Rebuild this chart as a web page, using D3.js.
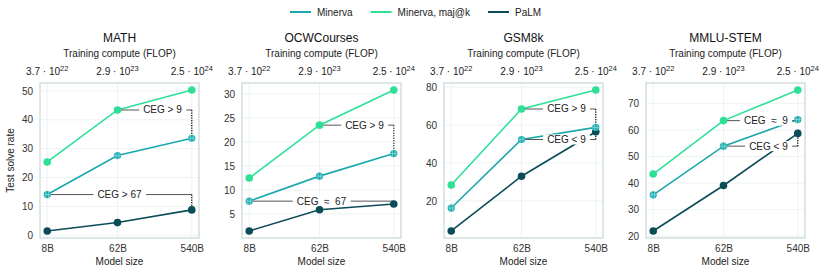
<!DOCTYPE html>
<html>
<head>
<meta charset="utf-8">
<script src="https://cdn.jsdelivr.net/npm/d3@7"></script>
<style>
body { margin: 0; background: #fff; }
svg { display: block; font-family: "Liberation Sans", Arial, sans-serif; }
</style>
</head>
<body>
<div id="canvas"></div>
<script>
// ---------------- DATA ----------------
var benchmarks = ["MATH", "OCWCourses", "GSM8k", "MMLU-STEM"];
var categories = ["8B", "62B", "540B"];
var modelParams = [8, 62, 540];
var computeMantissa = ["3.7", "2.9", "2.5"];
var computeExponent = ["22", "23", "24"];
var seriesNames = ["Minerva", "Minerva, maj@k", "PaLM"];

var minerva    = [[14.1, 27.6, 33.6], [7.7, 12.9, 17.6], [16.2, 52.4, 58.8], [35.6, 53.9, 63.9]];
var minervaMaj = [[25.4, 43.4, 50.3], [12.5, 23.5, 30.8], [28.4, 68.5, 78.5], [43.4, 63.5, 75.0]];
var palm       = [[1.5, 4.4, 8.8], [1.5, 5.9, 7.1], [4.1, 33.0, 56.5], [22.0, 39.1, 58.7]];

var yTicks = [[0, 10, 20, 30, 40, 50], [5, 10, 15, 20, 25, 30], [20, 40, 60, 80], [20, 30, 40, 50, 60, 70]];

// annotations: panel, label, from [series, model], to [series, model]
var annotations = [
  { panel: 0, label: "CEG > 9",  from: [1, 1], to: [0, 2] },
  { panel: 0, label: "CEG > 67", from: [0, 0], to: [2, 2] },
  { panel: 1, label: "CEG > 9",  from: [1, 1], to: [0, 2] },
  { panel: 1, label: "CEG \u2248 67", from: [0, 0], to: [2, 2] },
  { panel: 2, label: "CEG > 9",  from: [1, 1], to: [0, 2] },
  { panel: 2, label: "CEG < 9",  from: [0, 1], to: [2, 2] },
  { panel: 3, label: "CEG \u2248 9",  from: [1, 1], to: [0, 2] },
  { panel: 3, label: "CEG < 9",  from: [0, 1], to: [2, 2] }
];

// ---------------- STRUCTURE ----------------
var W = 830, H = 277;
var colors = ["#19a8ad", "#2ee096", "#0b4d57"];
var allSeries = [minerva, minervaMaj, palm];

var panelLeft = 40, panelStep = 202, panelW = 159;
var panelTop = 83, panelH = 155;

var svg = d3.select("#canvas").append("svg")
  .attr("width", W).attr("height", H);

// ---------------- LEGEND ----------------
var legend = svg.append("g").attr("class", "legend");
var lx = 290;
seriesNames.forEach(function (name, i) {
  legend.append("line")
    .attr("x1", lx).attr("x2", lx + 21)
    .attr("y1", 12).attr("y2", 12)
    .attr("stroke", colors[i]).attr("stroke-width", 2);
  var t = legend.append("text")
    .attr("x", lx + 27).attr("y", 15.5)
    .attr("font-size", 10).attr("fill", "#222")
    .text(name);
  lx += 27 + t.node().getComputedTextLength() + 18;
});

// ---------------- PANELS ----------------
var logPad = Math.pow(540 / 8, 0.05);

benchmarks.forEach(function (bench, p) {
  var g = svg.append("g")
    .attr("transform", `translate(${panelLeft + p * panelStep}, ${panelTop})`);

  var x = d3.scaleLog()
    .domain([modelParams[0] / logPad, modelParams[2] * logPad])
    .range([0, panelW]);

  var vals = [].concat(minerva[p], minervaMaj[p], palm[p]);
  var ext = d3.extent(vals);
  var pad = (ext[1] - ext[0]) * 0.05;
  var y = d3.scaleLinear()
    .domain([ext[0] - pad, ext[1] + pad])
    .range([panelH, 0]);

  // grid
  g.append("g").selectAll("line.gy")
    .data(yTicks[p]).enter().append("line")
    .attr("x1", 0).attr("x2", panelW)
    .attr("y1", function (d) { return y(d); })
    .attr("y2", function (d) { return y(d); })
    .attr("stroke", "#edf3f3").attr("stroke-width", 1);
  g.append("g").selectAll("line.gx")
    .data(modelParams).enter().append("line")
    .attr("x1", function (d) { return x(d); })
    .attr("x2", function (d) { return x(d); })
    .attr("y1", 0).attr("y2", panelH)
    .attr("stroke", "#edf3f3").attr("stroke-width", 1);

  // frame
  g.append("rect")
    .attr("width", panelW).attr("height", panelH)
    .attr("fill", "none").attr("stroke", "#d3dfdf").attr("stroke-width", 1.5);

  // left axis
  var yAxis = g.append("g")
    .call(d3.axisLeft(y).tickValues(yTicks[p]).tickSize(0).tickPadding(7));
  yAxis.select(".domain").remove();
  yAxis.selectAll("text").attr("font-size", 10).attr("fill", "#333")
    .attr("font-family", "Liberation Sans, Arial, sans-serif");

  // bottom axis
  var xAxis = g.append("g")
    .attr("transform", `translate(0, ${panelH})`)
    .call(d3.axisBottom(x).tickValues(modelParams)
      .tickFormat(function (d, i) { return categories[i]; })
      .tickSize(0).tickPadding(7));
  xAxis.select(".domain").remove();
  xAxis.selectAll("text").attr("font-size", 10).attr("fill", "#333")
    .attr("font-family", "Liberation Sans, Arial, sans-serif");

  // top axis (training compute)
  var topLabels = g.append("g");
  modelParams.forEach(function (m, i) {
    var t = topLabels.append("text")
      .attr("x", x(m)).attr("y", -8)
      .attr("text-anchor", "middle")
      .attr("font-size", 10).attr("fill", "#222");
    t.append("tspan").text(computeMantissa[i] + " \u00b7 10");
    t.append("tspan").attr("dy", -4).attr("font-size", 7.5).text(computeExponent[i]);
  });

  // titles
  g.append("text")
    .attr("x", panelW / 2).attr("y", -41)
    .attr("text-anchor", "middle").attr("font-size", 12).attr("fill", "#111")
    .text(bench);
  g.append("text")
    .attr("x", panelW / 2).attr("y", -26)
    .attr("text-anchor", "middle").attr("font-size", 10).attr("fill", "#222")
    .text("Training compute (FLOP)");
  g.append("text")
    .attr("x", panelW / 2).attr("y", panelH + 27)
    .attr("text-anchor", "middle").attr("font-size", 10).attr("fill", "#222")
    .text("Model size");

  if (p === 0) {
    g.append("text")
      .attr("transform", `translate(-26, ${panelH / 2}) rotate(-90)`)
      .attr("text-anchor", "middle").attr("font-size", 10).attr("fill", "#222")
      .text("Test solve rate");
  }

  // series lines
  var line = d3.line()
    .x(function (d, i) { return x(modelParams[i]); })
    .y(function (d) { return y(d); });
  [2, 0, 1].forEach(function (s) {
    g.append("path")
      .datum(allSeries[s][p])
      .attr("d", line)
      .attr("fill", "none")
      .attr("stroke", colors[s]).attr("stroke-width", 1.6);
  });

  // annotations
  annotations.filter(function (a) { return a.panel === p; }).forEach(function (a) {
    var x0 = x(modelParams[a.from[1]]);
    var y0 = y(allSeries[a.from[0]][p][a.from[1]]);
    var x1 = x(modelParams[a.to[1]]);
    var y1 = y(allSeries[a.to[0]][p][a.to[1]]);
    var ag = g.append("g");
    ag.append("line")
      .attr("x1", x0).attr("x2", x1).attr("y1", y0).attr("y2", y0)
      .attr("stroke", "#555").attr("stroke-width", 1);
    ag.append("line")
      .attr("x1", x1).attr("x2", x1).attr("y1", y0).attr("y2", y1)
      .attr("stroke", "#111").attr("stroke-width", 1.3)
      .attr("stroke-dasharray", "1.2,1.3");
    var t = ag.append("text")
      .attr("y", y0 + 3.5)
      .attr("font-size", 10).attr("fill", "#222")
      .attr("xml:space", "preserve")
      .text(a.label.replace("\u2248", " \u2248 "));
    if (a.from[1] === 0) {
      t.attr("x", (x0 + x1) / 2).attr("text-anchor", "middle");
    } else {
      t.attr("x", x1 - 10).attr("text-anchor", "end");
    }
    var bb = t.node().getBBox();
    ag.insert("rect", "text")
      .attr("x", bb.x - 4).attr("y", y0 - 5)
      .attr("width", bb.width + 8).attr("height", 10)
      .attr("fill", "#fff");
  });

  // markers
  [2, 1].forEach(function (s) {
    g.append("g").selectAll("circle")
      .data(allSeries[s][p]).enter().append("circle")
      .attr("cx", function (d, i) { return x(modelParams[i]); })
      .attr("cy", function (d) { return y(d); })
      .attr("r", 3.8)
      .attr("fill", colors[s]);
  });
  var mk = g.append("g").selectAll("g")
    .data(minerva[p]).enter().append("g")
    .attr("transform", function (d, i) { return `translate(${x(modelParams[i])}, ${y(d)})`; });
  mk.append("circle").attr("r", 3.6).attr("fill", colors[0]);
  mk.append("path")
    .attr("d", "M-1.4,-3.6V3.6M1.4,-3.6V3.6M-3.6,0H3.6")
    .attr("stroke", "#8adbdc").attr("stroke-width", 0.8);
});
</script>
</body>
</html>
